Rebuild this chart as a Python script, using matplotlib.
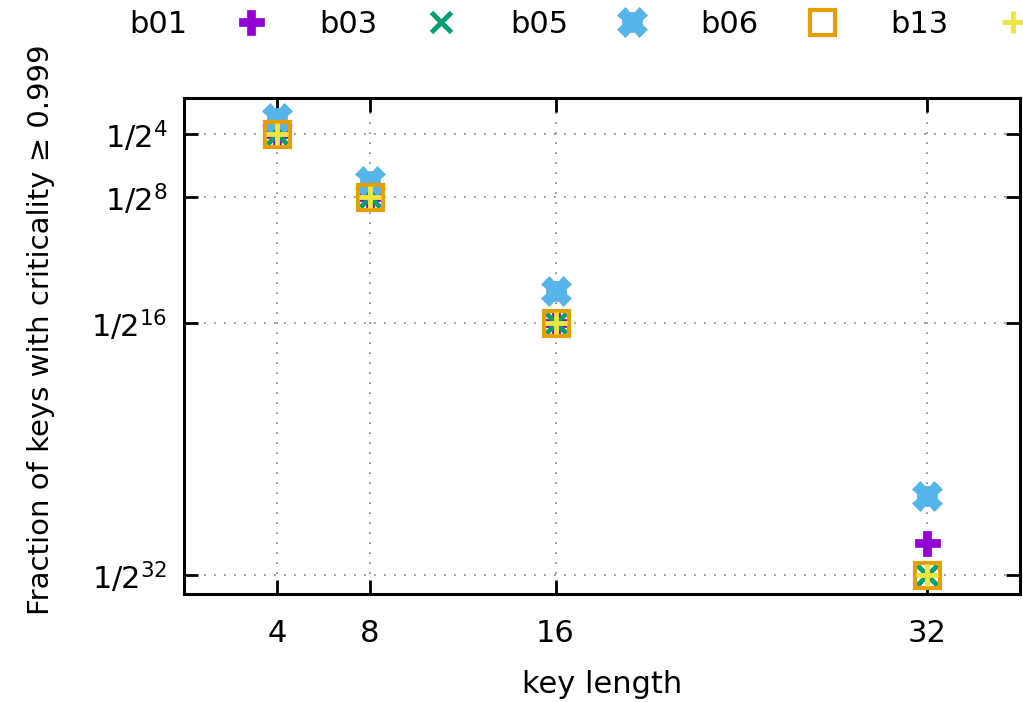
import numpy as np
import matplotlib
matplotlib.use("Agg")
import matplotlib.pyplot as plt
from matplotlib.lines import Line2D
from matplotlib.legend_handler import HandlerTuple

# donnees (exposants de 2)
key_lengths = [4, 8, 16, 32]
b01_exp = [-4, -8, -16, -30]
b03_exp = [-4, -8, -16, -32]
b05_exp = [-3, -7, -14, -27]
b06_exp = [-4, -8, -16, -32]
b13_exp = [-4, -8, -16, -32]

ytick_exp = [-4, -8, -16, -32]
xtick_vals = [4, 8, 16, 32]

plt.rcParams['font.family'] = ['DejaVu Sans']
plt.rcParams['font.size'] = 22

fig = plt.figure(figsize=(10.23, 7.02), dpi=100)
ax = fig.add_axes([0.1799, 0.1538, 0.997 - 0.1799, 0.8608 - 0.1538])

x = np.array(key_lengths)
f = lambda e: np.power(2.0, np.array(e, dtype=float))

h1, = ax.plot(x, f(b01_exp), ls='none', marker='P', ms=18, color='#9400d3', mec='#9400d3', mew=0.5)
h2, = ax.plot(x, f(b03_exp), ls='none', marker='x', ms=15, color='#009e73', mew=3.5)
h3a, = ax.plot(x, f(b05_exp), ls='none', marker='X', ms=21, color='#56b4e9', mec='#56b4e9', mew=0.5)
h3b, = ax.plot(x, f(b05_exp), ls='none', marker='s', ms=14, color='#56b4e9', mec='#56b4e9', mew=0.5)
h4, = ax.plot(x, f(b06_exp), ls='none', marker='s', ms=18, mfc='none', mec='#e69f00', mew=3)
h5, = ax.plot(x, f(b13_exp), ls='none', marker='+', ms=16, color='#f0e442', mew=3.5)

ax.set_yscale('log', base=2)
ax.set_xlim(0, 36)
ax.set_ylim(2.0 ** -33.21, 2.0 ** -1.70)

ax.set_xticks(xtick_vals)
ax.set_xticklabels([str(v) for v in xtick_vals])
ax.set_yticks(f(ytick_exp))
ax.set_yticklabels([r'1/2$^{%d}$' % (-e) for e in ytick_exp])
ax.minorticks_off()

ax.tick_params(axis='both', which='major', direction='in', length=10, width=2,
               top=True, right=True, labelsize=22)
ax.tick_params(axis='x', pad=18)
ax.tick_params(axis='y', pad=12)
for s in ax.spines.values():
    s.set_linewidth(2.2)

ax.grid(True, which='major', ls=(0, (1, 5)), color='#808080', lw=1.2)
ax.set_axisbelow(True)

ax.set_xlabel('key length', fontsize=22, labelpad=16)
ax.set_ylabel('Fraction of keys with criticality \u2265 0.999', fontsize=21)
ax.yaxis.set_label_coords(-0.154, 0.532)

handles = [h1, h2, (h3a, h3b), h4, h5]
labels = ['b01', 'b03', 'b05', 'b06', 'b13']
fig.legend(handles, labels, loc='upper left', bbox_to_anchor=(0.099, 1.025), ncol=5,
           frameon=False, markerfirst=False, handlelength=1.6, handletextpad=1.29,
           columnspacing=1.44, fontsize=22, handler_map={tuple: HandlerTuple(ndivide=1)})

fig.savefig('out.png', dpi=100)
